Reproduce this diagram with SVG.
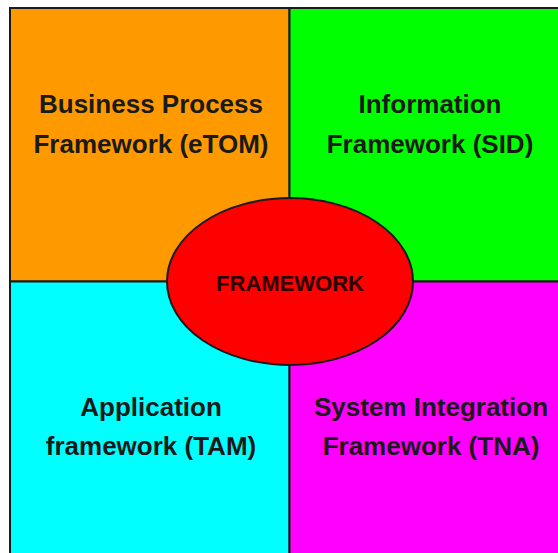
<svg xmlns="http://www.w3.org/2000/svg" width="558" height="553" viewBox="0 0 558 553">
<style>
.q{stroke:#1a1a1a;stroke-width:2}
.t{font-family:"Liberation Sans",Arial,sans-serif;font-weight:bold;font-size:26px;fill:#1a1a1a;text-anchor:middle}
.c{font-family:"Liberation Sans",Arial,sans-serif;font-weight:bold;font-size:22px;fill:#2a0000;text-anchor:middle}
</style>
<rect x="0" y="0" width="558" height="553" fill="#ffffff"/>
<g id="node-etom">
<rect class="q" x="10" y="8" width="279.5" height="273.5" fill="#ff9900"/>
<text class="t" x="151" y="113">Business Process</text>
<text class="t" x="151" y="153">Framework (eTOM)</text>
</g>
<g id="node-sid">
<rect class="q" x="289.5" y="8" width="280" height="273.5" fill="#00ff00"/>
<text class="t" x="430" y="113">Information</text>
<text class="t" x="430" y="153">Framework (SID)</text>
</g>
<g id="node-tam">
<rect class="q" x="10" y="281.5" width="279.5" height="280" fill="#00ffff"/>
<text class="t" x="151" y="416">Application</text>
<text class="t" x="151" y="455">framework (TAM)</text>
</g>
<g id="node-tna">
<rect class="q" x="289.5" y="281.5" width="280" height="280" fill="#ff00ff"/>
<text class="t" x="431" y="416">System Integration</text>
<text class="t" x="431" y="455">Framework (TNA)</text>
</g>
<g id="connectors"></g>
<g id="node-framework">
<ellipse cx="290" cy="281.5" rx="123" ry="83.5" fill="#ff0000" stroke="#1a1a1a" stroke-width="2"/>
<text class="c" x="290" y="291">FRAMEWORK</text>
</g>
</svg>
